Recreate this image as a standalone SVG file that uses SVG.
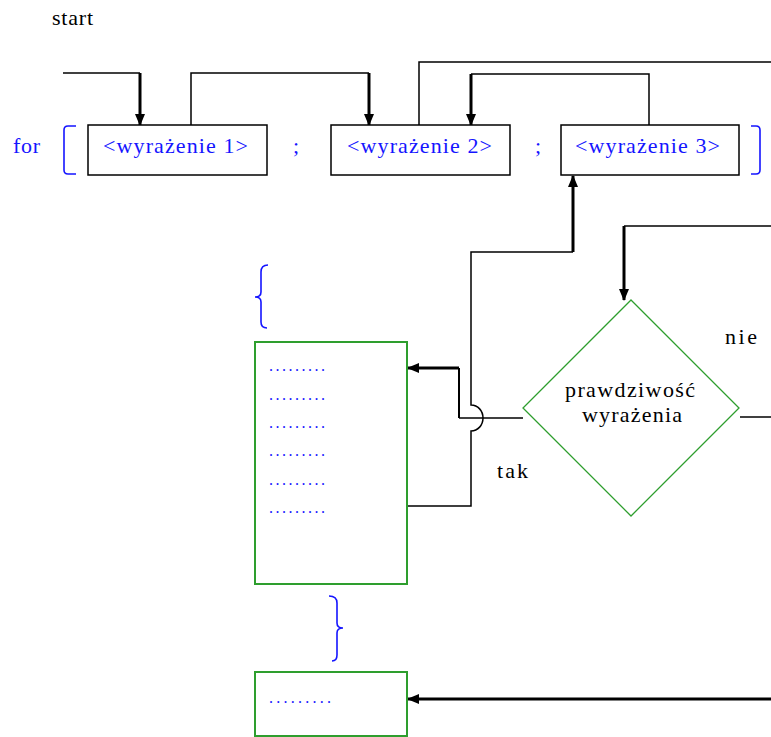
<svg xmlns="http://www.w3.org/2000/svg" width="771" height="737" viewBox="0 0 771 737">
<style>
  .blk{font-family:"Liberation Serif","Times New Roman",serif;font-size:22px;fill:#000}
  .blu{font-family:"Liberation Serif","Times New Roman",serif;font-size:22px;fill:#1515ff}
  .dots{font-family:"Liberation Serif","Times New Roman",serif;font-size:16px;fill:#1515ff}
  .box{fill:#fff;stroke:#000;stroke-width:1.5}
  .gbox{fill:#fff;stroke:#2e9e2e;stroke-width:2}
  .dia{fill:#fff;stroke:#2e9e2e;stroke-width:1.3}
  .br{fill:none;stroke:#1515ff;stroke-width:1.6}
  .thin{fill:none;stroke:#000;stroke-width:1.5}
  .thick{fill:none;stroke:#000;stroke-width:3}
</style>
<defs>
  <marker id="ah" viewBox="0 0 12 10" refX="11" refY="5" markerWidth="12" markerHeight="10" markerUnits="userSpaceOnUse" orient="auto">
    <path d="M0,0 L12,5 L0,10 Z" fill="#000"/>
  </marker>
</defs>

<text class="blk" x="52" y="25" textLength="41" lengthAdjust="spacing">start</text>
<text class="blu" x="13" y="153" textLength="27" lengthAdjust="spacing">for</text>
<path class="br" d="M76,126 L68,126 Q64,126 64,130 L64,170 Q64,174 68,174 L76,174"/>
<path class="br" d="M751,126 L756,126 Q760,126 760,130 L760,170 Q760,174 756,174 L751,174"/>
<text class="blu" x="293" y="153">;</text>
<text class="blu" x="535" y="153">;</text>

<g id="connectors">
  <path class="thin" d="M63,73 H140"/>
  <path class="thick" d="M140,73 V125" marker-end="url(#ah)"/>
  <path class="thin" d="M191,125 V73 H369"/>
  <path class="thick" d="M369,73 V125" marker-end="url(#ah)"/>
  <path class="thin" d="M419,125 V62 H771"/>
  <path class="thin" d="M649,125 V74 H471"/>
  <path class="thick" d="M471,74 V125" marker-end="url(#ah)"/>
  <path class="thin" d="M740,417 H771"/>
  <path class="thin" d="M771,226 H624"/>
  <path class="thick" d="M624,226 V300" marker-end="url(#ah)"/>
  <path class="thin" d="M523,418 H459"/>
  <path fill="none" stroke="#000" stroke-width="2" d="M459,418 V368"/>
  <path class="thick" d="M459,368 H408" marker-end="url(#ah)"/>
  <path class="thin" d="M407,506 H471 V431 C478,431 483,425 483,418 C483,411 478,405 471,405 V252 H573"/>
  <path class="thick" d="M573,252 V176" marker-end="url(#ah)"/>
  <path class="thick" d="M771,699 H408" marker-end="url(#ah)"/>
</g>

<g id="expr1">
  <rect class="box" x="88" y="125" width="179" height="50"/>
  <text class="blu" x="103" y="153" textLength="145" lengthAdjust="spacing">&lt;wyrażenie 1&gt;</text>
</g>
<g id="expr2">
  <rect class="box" x="331" y="125" width="179" height="50"/>
  <text class="blu" x="347" y="153" textLength="145" lengthAdjust="spacing">&lt;wyrażenie 2&gt;</text>
</g>
<g id="expr3">
  <rect class="box" x="561" y="125" width="178" height="50"/>
  <text class="blu" x="575" y="153" textLength="145" lengthAdjust="spacing">&lt;wyrażenie 3&gt;</text>
</g>

<g id="brace-open">
  <path class="br" d="M268,265 Q261,265 261,272 L261,292 Q261,297 255,297 Q261,297 261,302 L261,322 Q261,328 267,328"/>
</g>

<g id="body">
  <rect class="gbox" x="255" y="342" width="152" height="242"/>
  <text class="dots" x="269" y="371" textLength="56" lengthAdjust="spacing">.........</text>
  <text class="dots" x="269" y="400" textLength="56" lengthAdjust="spacing">.........</text>
  <text class="dots" x="269" y="428" textLength="56" lengthAdjust="spacing">.........</text>
  <text class="dots" x="269" y="456" textLength="56" lengthAdjust="spacing">.........</text>
  <text class="dots" x="269" y="485" textLength="56" lengthAdjust="spacing">.........</text>
  <text class="dots" x="269" y="513" textLength="56" lengthAdjust="spacing">.........</text>
</g>

<g id="brace-close">
  <path class="br" d="M329,596 Q337,596 337,603 L337,623 Q337,628 343,628 Q337,628 337,633 L337,655 Q337,661 332,661"/>
</g>

<g id="after">
  <rect class="gbox" x="255" y="672" width="152" height="64"/>
  <text class="dots" x="269" y="703" textLength="62" lengthAdjust="spacing">.........</text>
</g>

<g id="condition">
  <polygon class="dia" points="631,300 739,408 631,516 523,408"/>
  <text class="blk" x="630" y="397" text-anchor="middle" textLength="130" lengthAdjust="spacing">prawdziwość</text>
  <text class="blk" x="632" y="422" text-anchor="middle" textLength="100" lengthAdjust="spacing">wyrażenia</text>
</g>

<text class="blk" x="725" y="344" textLength="32" lengthAdjust="spacing">nie</text>
<text class="blk" x="497" y="478" textLength="31" lengthAdjust="spacing">tak</text>
</svg>
